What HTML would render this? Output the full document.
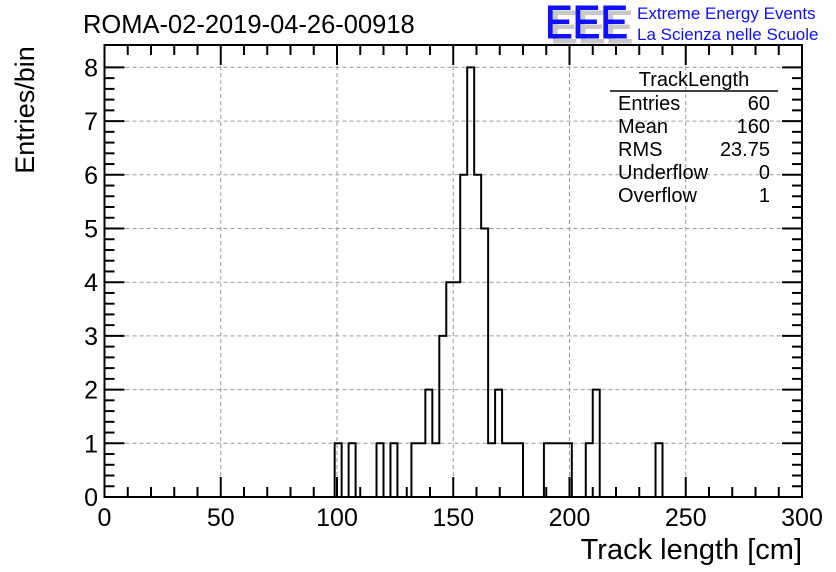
<!DOCTYPE html>
<html><head><meta charset="utf-8"><style>
html,body{margin:0;padding:0;background:#fff}
svg{display:block;font-family:"Liberation Sans",Arial,sans-serif}
</style></head><body>
<svg id="chart" width="836" height="572" viewBox="0 0 836 572">
<text x="83" y="33" font-size="25.5">ROMA-02-2019-04-26-00918</text>
<g>
<text x="550" y="43" font-size="46" fill="#c8c8c8" stroke="#c8c8c8" stroke-width="1" textLength="83" lengthAdjust="spacingAndGlyphs">EEE</text>
<text x="545" y="38" font-size="46" fill="#1010ff" stroke="#1010ff" stroke-width="1" textLength="83" lengthAdjust="spacingAndGlyphs">EEE</text>
<text x="637" y="19" font-size="17" fill="#1010ff">Extreme Energy Events</text>
<text x="637" y="40" font-size="17" fill="#1010ff">La Scienza nelle Scuole</text>
</g>
<g id="grid"></g>
<g id="ticks"></g>
<path id="hist" fill="none" stroke="#000" stroke-width="2"></path>
<rect x="104.5" y="45" width="697.5" height="452" fill="none" stroke="#000" stroke-width="2"/>
<g id="labels" font-size="25"></g>
<text transform="translate(34,110) rotate(-90)" text-anchor="middle" font-size="27">Entries/bin</text>
<text x="802" y="559" text-anchor="end" font-size="29">Track length [cm]</text>
<g font-size="20">
<text x="694" y="86" text-anchor="middle">TrackLength</text>
<line x1="610" y1="91" x2="778" y2="91" stroke="#000" stroke-width="1.5"/>
<text x="618" y="110">Entries</text><text x="770" y="110" text-anchor="end">60</text>
<text x="618" y="133">Mean</text><text x="770" y="133" text-anchor="end">160</text>
<text x="618" y="156">RMS</text><text x="770" y="156" text-anchor="end">23.75</text>
<text x="618" y="179">Underflow</text><text x="770" y="179" text-anchor="end">0</text>
<text x="618" y="202">Overflow</text><text x="770" y="202" text-anchor="end">1</text>
</g>
</svg>
<script>
const binStarts = [99,105,117,123,132,135,138,141,144,147,150,153,156,159,162,165,168,171,174,177,189,192,195,198,207,210,237];
const binCounts = [1,1,1,1,1,1,2,1,3,4,4,6,8,6,5,1,2,1,1,1,1,1,1,1,1,2,1];
const binWidth = 3;
const xTicks = [0,50,100,150,200,250,300];
const yTicks = [0,1,2,3,4,5,6,7,8];
const NS="http://www.w3.org/2000/svg";
const X0=104.5,X1=802,Y0=497,Y1=45;
const xs=v=>X0+(v-0)/300*(X1-X0);
const ys=v=>Y0-v*53.7;
function mk(tag,attrs,parent){const e=document.createElementNS(NS,tag);for(const k in attrs)e.setAttribute(k,attrs[k]);parent.appendChild(e);return e;}
const grid=document.getElementById('grid'),ticks=document.getElementById('ticks'),labels=document.getElementById('labels');
xTicks.forEach(t=>{
  if(t>0&&t<300){const l=mk('line',{x1:xs(t),x2:xs(t),y1:Y1,y2:Y0,stroke:'#999','stroke-dasharray':'4,3','stroke-width':1},grid);
  
  }
  const tx=mk('text',{x:xs(t),y:526,'text-anchor':'middle'},labels);tx.textContent=t;
  
  
});
yTicks.forEach(t=>{
  if(t>0){const l=mk('line',{x1:X0,x2:X1,y1:ys(t),y2:ys(t),stroke:'#999','stroke-dasharray':'4,3','stroke-width':1},grid);
  
  }
  const tx=mk('text',{x:98,y:ys(t)+9,'text-anchor':'end'},labels);tx.textContent=t;
  
  
});
for(let v=0;v<=300;v+=10){const len=v%50===0?20:10;
  mk('line',{x1:xs(v),x2:xs(v),y1:Y0,y2:Y0-len,stroke:'#000','stroke-width':2},ticks);
  mk('line',{x1:xs(v),x2:xs(v),y1:Y1,y2:Y1+len,stroke:'#000','stroke-width':2},ticks);}
for(let v=0;v<=8.2;v+=0.2){const len=Math.abs(v-Math.round(v))<0.01?20:10;
  mk('line',{x1:X0,x2:X0+len,y1:ys(v),y2:ys(v),stroke:'#000','stroke-width':2},ticks);
  mk('line',{x1:X1,x2:X1-len,y1:ys(v),y2:ys(v),stroke:'#000','stroke-width':2},ticks);}
const nb=100,counts=new Array(nb).fill(0);
binStarts.forEach((s,i)=>{counts[Math.round(s/binWidth)]=binCounts[i];});
let d=`M${xs(0)},${ys(0)}`;
for(let i=0;i<nb;i++){d+=` L${xs(i*binWidth)},${ys(counts[i])} L${xs((i+1)*binWidth)},${ys(counts[i])}`;}
document.getElementById('hist').setAttribute('d',d);
</script>
</body></html>
